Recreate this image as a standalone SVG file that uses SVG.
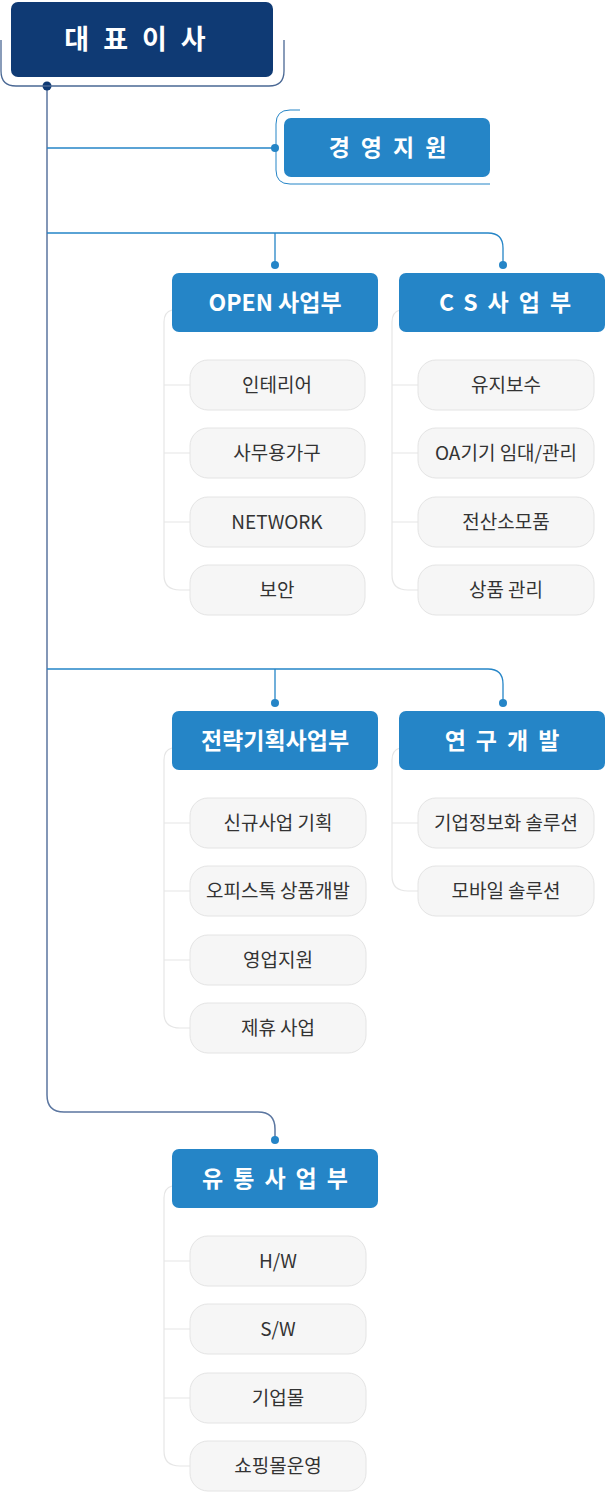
<svg xmlns="http://www.w3.org/2000/svg" width="606" height="1493" viewBox="0 0 606 1493">
<style>
.dept{fill:#2585c7}
.dt{font-family:"Noto Sans CJK KR","Noto Sans",sans-serif;font-weight:bold;font-size:23px;fill:#fff;text-anchor:middle}
.pill{fill:#f6f6f6;stroke:#e4e4e4;stroke-width:1}
.it{font-family:"Noto Sans CJK KR","Noto Sans",sans-serif;font-size:19px;fill:#333;text-anchor:middle}
.sub{fill:none;stroke:#e6e6e6;stroke-width:1.2}
.ln{fill:none;stroke:#2585c7;stroke-width:1.3}
.dot{fill:#2585c7}
</style>
<g id="connectors">
<path d="M47 86V1095Q47 1112 64 1112H258Q275 1112 275 1129V1140" fill="none" stroke="#5b76a0" stroke-width="1.5"/>
<path class="ln" d="M47 148H275"/>
<path class="ln" d="M47 233H488Q503 233 503 248V265M275 233V265"/>
<path class="ln" d="M47 669H488Q503 669 503 684V703M275 669V703"/>
<circle cx="47" cy="86" r="4.5" fill="#0f3a74"/>
<circle class="dot" cx="275" cy="148" r="4"/>
<circle class="dot" cx="275" cy="265" r="4"/>
<circle class="dot" cx="503" cy="265" r="4"/>
<circle class="dot" cx="275" cy="703" r="4"/>
<circle class="dot" cx="503" cy="703" r="4"/>
<circle class="dot" cx="275" cy="1140" r="4"/>
<path class="sub" d="M172 310Q164 312 164 322V575Q164 590 180 590H190M164 385H190M164 453H190M164 522H190"/>
<path class="sub" d="M400 310Q392 312 392 322V575Q392 590 408 590H418M392 385H418M392 453H418M392 522H418"/>
<path class="sub" d="M172 748Q164 750 164 760V1013Q164 1028 180 1028H190M164 823H190M164 891H190M164 960H190"/>
<path class="sub" d="M400 748Q392 750 392 760V876Q392 891 408 891H418M392 823H418"/>
<path class="sub" d="M172 1186Q164 1188 164 1198V1451Q164 1466 180 1466H190M164 1261H190M164 1329H190M164 1398H190"/>
</g>
<g id="ceo">
<path d="M1 40V71Q1 86 16 86H269Q284 86 284 71V40" fill="none" stroke="#4a6894" stroke-width="1.3"/>
<rect x="11" y="2" width="262" height="75" rx="7" fill="#0f3a74"/>
<text x="142" y="49" font-family="'Noto Sans CJK KR',sans-serif" font-weight="bold" font-size="27" fill="#fff" text-anchor="middle" letter-spacing="14">대표이사</text>
</g>
<g id="support">
<path d="M300 110H290Q276 110 276 124V170Q276 184 290 184H490" fill="none" stroke="#2585c7" stroke-width="1"/>
<rect class="dept" x="284" y="118" width="206" height="59" rx="7"/>
<text class="dt" x="393" y="156" letter-spacing="11">경영지원</text>
</g>
<g id="open">
<rect class="dept" x="172" y="273" width="206" height="59" rx="7"/>
<text class="dt" x="275" y="311">OPEN 사업부</text>
<rect class="pill" x="190" y="360" width="175" height="50" rx="18"/><text class="it" x="277" y="392">인테리어</text>
<rect class="pill" x="190" y="428" width="175" height="50" rx="18"/><text class="it" x="277" y="460">사무용가구</text>
<rect class="pill" x="190" y="497" width="175" height="50" rx="18"/><text class="it" x="277" y="529">NETWORK</text>
<rect class="pill" x="190" y="565" width="175" height="50" rx="18"/><text class="it" x="277" y="597">보안</text>
</g>
<g id="cs">
<rect class="dept" x="399" y="273" width="206" height="59" rx="7"/>
<text class="dt" x="510" y="311" letter-spacing="10">CS사업부</text>
<rect class="pill" x="418" y="360" width="176" height="50" rx="18"/><text class="it" x="506" y="392">유지보수</text>
<rect class="pill" x="418" y="428" width="176" height="50" rx="18"/><text class="it" x="506" y="460">OA기기 임대/관리</text>
<rect class="pill" x="418" y="497" width="176" height="50" rx="18"/><text class="it" x="506" y="529">전산소모품</text>
<rect class="pill" x="418" y="565" width="176" height="50" rx="18"/><text class="it" x="506" y="597">상품 관리</text>
</g>
<g id="strategy">
<rect class="dept" x="172" y="711" width="206" height="59" rx="7"/>
<text class="dt" x="275" y="749">전략기획사업부</text>
<rect class="pill" x="190" y="798" width="176" height="50" rx="18"/><text class="it" x="278" y="830">신규사업 기획</text>
<rect class="pill" x="190" y="866" width="176" height="50" rx="18"/><text class="it" x="278" y="898">오피스톡 상품개발</text>
<rect class="pill" x="190" y="935" width="176" height="50" rx="18"/><text class="it" x="278" y="967">영업지원</text>
<rect class="pill" x="190" y="1003" width="176" height="50" rx="18"/><text class="it" x="278" y="1035">제휴 사업</text>
</g>
<g id="rnd">
<rect class="dept" x="399" y="711" width="206" height="59" rx="7"/>
<text class="dt" x="507" y="749" letter-spacing="10">연구개발</text>
<rect class="pill" x="418" y="798" width="176" height="50" rx="18"/><text class="it" x="506" y="830">기업정보화 솔루션</text>
<rect class="pill" x="418" y="866" width="176" height="50" rx="18"/><text class="it" x="506" y="898">모바일 솔루션</text>
</g>
<g id="dist">
<rect class="dept" x="172" y="1149" width="206" height="59" rx="7"/>
<text class="dt" x="280" y="1187" letter-spacing="10">유통사업부</text>
<rect class="pill" x="190" y="1236" width="176" height="50" rx="18"/><text class="it" x="278" y="1268">H/W</text>
<rect class="pill" x="190" y="1304" width="176" height="50" rx="18"/><text class="it" x="278" y="1336">S/W</text>
<rect class="pill" x="190" y="1373" width="176" height="50" rx="18"/><text class="it" x="278" y="1405">기업몰</text>
<rect class="pill" x="190" y="1441" width="176" height="50" rx="18"/><text class="it" x="278" y="1473">쇼핑몰운영</text>
</g>
</svg>
